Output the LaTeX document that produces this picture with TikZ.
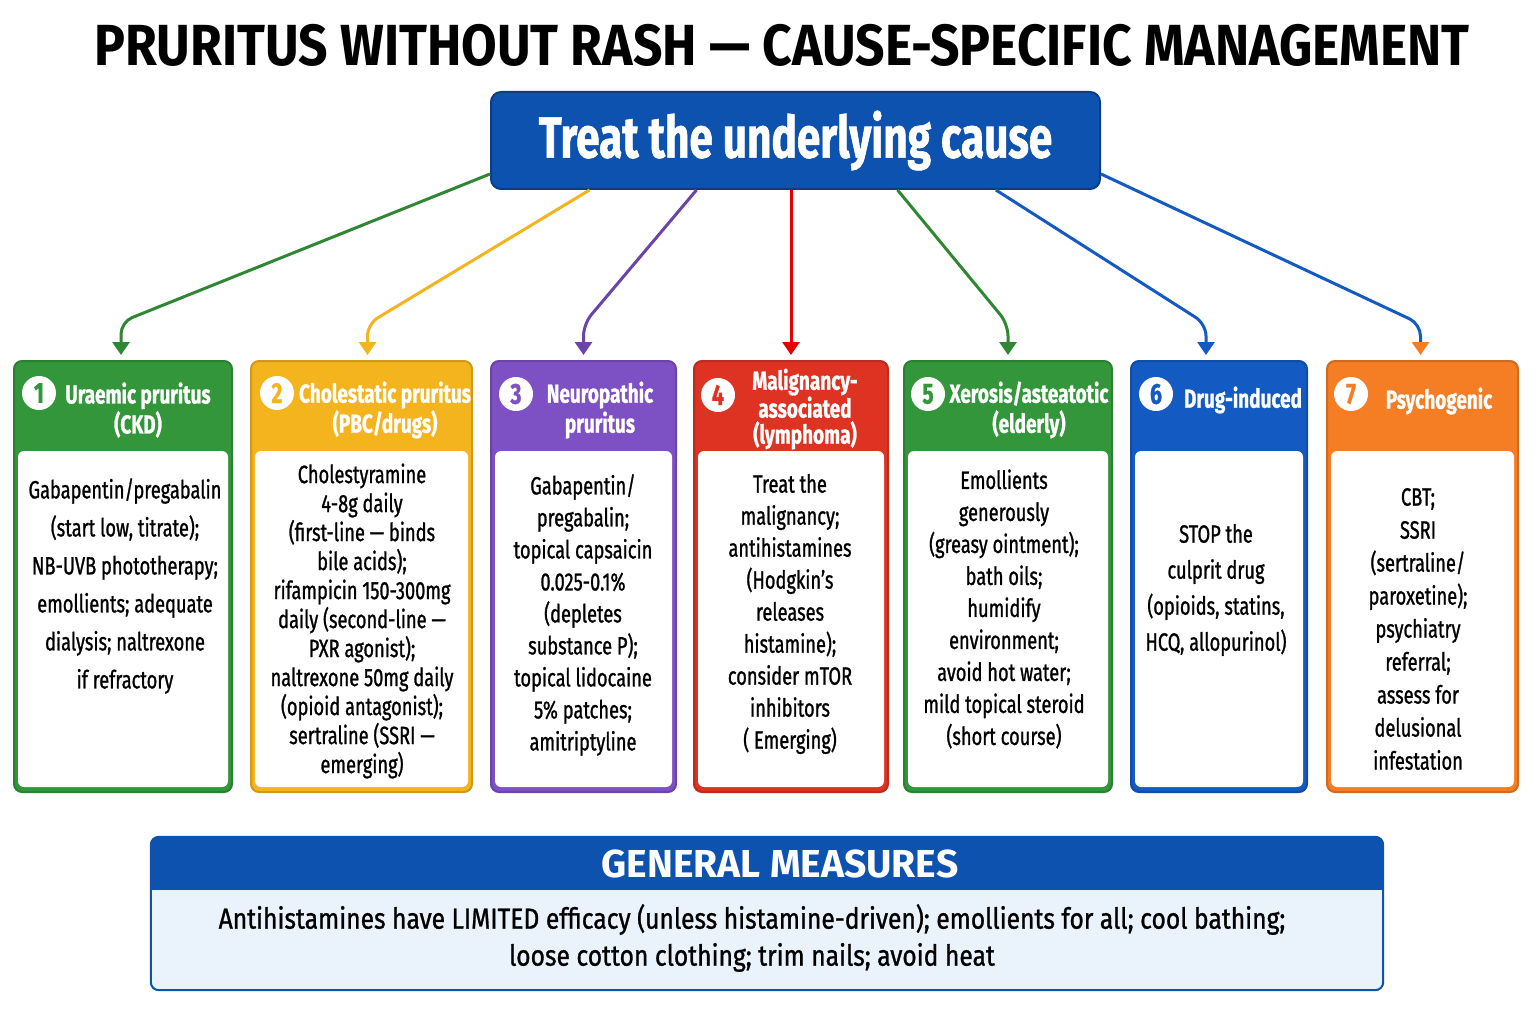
\documentclass[tikz,border=0pt]{standalone}
\usepackage{fontspec}
\setmainfont[FakeStretch=0.73, FakeBold=1]{Fira Sans}
\newfontfamily\titlefont[FakeStretch=0.89]{Fira Sans}
\newfontfamily\widefont{Fira Sans}
\newfontfamily\gmfont[FakeStretch=0.85, FakeBold=1]{Fira Sans}
\usetikzlibrary{arrows.meta, calc}
\definecolor{colGreen}{RGB}{52,150,58}
\definecolor{colAmber}{RGB}{243,180,30}
\definecolor{colPurple}{RGB}{125,80,195}
\definecolor{colRed}{RGB}{222,50,35}
\definecolor{colBlue}{RGB}{20,90,195}
\definecolor{colOrange}{RGB}{245,125,35}
\definecolor{colMain}{RGB}{14,82,176}
\definecolor{colPale}{RGB}{234,242,252}

\begin{document}
\begin{tikzpicture}[x=1pt, y=-1pt,
  card/.style={rectangle, rounded corners=8pt, draw=#1!85!black, fill=#1, line width=2pt,
               minimum height=431pt, inner sep=0pt},
  body/.style={rectangle, rounded corners=6pt, fill=white, minimum height=336pt, inner sep=0pt},
  num/.style={circle, fill=white, text=#1, minimum size=34pt, inner sep=0pt,
              font=\fontsize{29}{29}\selectfont\bfseries},
  head/.style={text=white, align=center, inner sep=0pt, font=\fontsize{26}{30}\selectfont\bfseries},
  txt/.style={align=center, inner sep=0pt, font=\fontsize{25}{32}\selectfont},
  arr/.style={-{Triangle[width=17pt,length=13pt]}, line width=3pt, rounded corners=12pt, shorten >=5pt},
]
\useasboundingbox[fill=white] (0,0) rectangle (1536,1024);

\node[font=\titlefont\fontsize{58}{58}\selectfont\bfseries] (title) at (782,45)
  {PRURITUS WITHOUT RASH — CAUSE-SPECIFIC MANAGEMENT};
\node[rectangle, rounded corners=10pt, draw=colMain!75!black, fill=colMain, line width=2pt,
      minimum width=609pt, minimum height=97pt, text=white,
      font=\fontsize{58}{58}\selectfont\bfseries] (cause) at (795.5,140.5) {Treat the underlying cause};

% cause cards
\node[card=colGreen, minimum width=218pt] (c1) at (123,576.5) {};
\node[card=colAmber, minimum width=221pt] (c2) at (361.5,576.5) {};
\node[card=colPurple, minimum width=185pt] (c3) at (583.5,576.5) {};
\node[card=colRed, minimum width=194pt] (c4) at (791,576.5) {};
\node[card=colGreen, minimum width=208pt] (c5) at (1008,576.5) {};
\node[card=colBlue, minimum width=176pt] (c6) at (1219,576.5) {};
\node[card=colOrange, minimum width=191pt] (c7) at (1422.5,576.5) {};

\node[body, minimum width=210pt] (b1) at (123,619) {};
\node[body, minimum width=213pt] (b2) at (361.5,619) {};
\node[body, minimum width=177pt] (b3) at (583.5,619) {};
\node[body, minimum width=186pt] (b4) at (791,619) {};
\node[body, minimum width=200pt] (b5) at (1008,619) {};
\node[body, minimum width=168pt] (b6) at (1219,619) {};
\node[body, minimum width=183pt] (b7) at (1422.5,619) {};

\node[num=colGreen] (n1) at (39,393) {1};
\node[num=colAmber] (n2) at (277,393) {2};
\node[num=colPurple] (n3) at (516,394) {3};
\node[num=colRed] (n4) at (718,395) {4};
\node[num=colGreen] (n5) at (928,394) {5};
\node[num=colBlue] (n6) at (1156,394) {6};
\node[num=colOrange] (n7) at (1351,394) {7};

\node[head] (h1) at (138,410) {Uraemic pruritus\\(CKD)};
\node[head] (h2) at (385,410) {Cholestatic pruritus\\(PBC/drugs)};
\node[head] (h3) at (600,410) {Neuropathic\\pruritus};
\node[head, font=\fontsize{26}{26}\selectfont\bfseries] (h4) at (805,409) {Malignancy-\\associated\\(lymphoma)};
\node[head] (h5) at (1029,410) {Xerosis/asteatotic\\(elderly)};
\node[head] (h6) at (1243,400) {Drug-induced};
\node[head] (h7) at (1439,401) {Psychogenic};

\node[txt, font=\fontsize{25}{38}\selectfont] (t1) at (125,586)
  {Gabapentin/pregabalin\\(start low, titrate);\\NB-UVB phototherapy;\\emollients; adequate\\dialysis; naltrexone\\if refractory};
\node[txt, font=\fontsize{25}{29}\selectfont] (t2) at (362,621)
  {Cholestyramine\\4-8g daily\\(first-line — binds\\bile acids);\\rifampicin 150-300mg\\daily (second-line —\\PXR agonist);\\naltrexone 50mg daily\\(opioid antagonist);\\sertraline (SSRI —\\emerging)};
\node[txt] (t3) at (583,615)
  {Gabapentin/\\pregabalin;\\topical capsaicin\\0.025-0.1\%\\(depletes\\substance P);\\topical lidocaine\\5\% patches;\\amitriptyline};
\node[txt] (t4) at (790,614)
  {Treat the\\malignancy;\\antihistamines\\(Hodgkin's\\releases\\histamine);\\consider mTOR\\inhibitors\\( Emerging)};
\node[txt] (t5) at (1004,609)
  {Emollients\\generously\\(greasy ointment);\\bath oils;\\humidify\\environment;\\avoid hot water;\\mild topical steroid\\(short course)};
\node[txt, font=\fontsize{25}{36}\selectfont] (t6) at (1216,590)
  {STOP the\\culprit drug\\(opioids, statins,\\HCQ, allopurinol)};
\node[txt, font=\fontsize{25}{33}\selectfont] (t7) at (1418,629)
  {CBT;\\SSRI\\(sertraline/\\paroxetine);\\psychiatry\\referral;\\assess for\\delusional\\infestation};

% connectors
\draw[arr, colGreen!90!black] ($(cause.south west)+(0,-16)$) -- ($(c1.north)+(-2,-38)$) -- ($(c1.north)+(-2,0)$);
\draw[arr, colAmber] ($(cause.south west)!0.163!(cause.south east)$) -- ($(c2.north)+(6,-36)$) -- ($(c2.north)+(6,0)$);
\draw[arr, colPurple!85!black] ($(cause.south west)!0.338!(cause.south east)$) -- ($(c3.north)+(0,-36)$) -- (c3.north);
\draw[arr, red!90!black] (cause.south -| c4.north) -- (c4.north);
\draw[arr, colGreen!90!black] ($(cause.south west)!0.667!(cause.south east)$) -- ($(c5.north)+(0,-36)$) -- (c5.north);
\draw[arr, colBlue] ($(cause.south west)!0.828!(cause.south east)$) -- ($(c6.north)+(-13,-36)$) -- ($(c6.north)+(-13,0)$);
\draw[arr, colBlue, -{Triangle[width=17pt,length=13pt,color=colOrange]}] ($(cause.south east)+(0,-16)$)
  -- ($(c7.north)+(-2,-36)$) -- ($(c7.north)+(-2,0)$);

% general measures
\node[rectangle, rounded corners=8pt, fill=colPale, minimum width=1232pt, minimum height=153pt,
      inner sep=0pt] (gm) at (767,913.5) {};
\begin{scope}
  \clip[rounded corners=8pt] (gm.north west) rectangle (gm.south east);
  \fill[colMain] (gm.north west) rectangle ($(gm.north east)+(0,53)$);
\end{scope}
\draw[colMain, line width=2pt, rounded corners=8pt] (gm.north west) rectangle (gm.south east);
\node[text=white, font=\widefont\fontsize{39}{39}\selectfont\bfseries] (gmhead) at (780,864) {GENERAL MEASURES};
\node[txt, font=\gmfont\fontsize{29}{37}\selectfont] (gmtext) at (752,938)
  {Antihistamines have LIMITED efficacy (unless histamine-driven); emollients for all; cool bathing;\\loose cotton clothing; trim nails; avoid heat};
\end{tikzpicture}
\end{document}
